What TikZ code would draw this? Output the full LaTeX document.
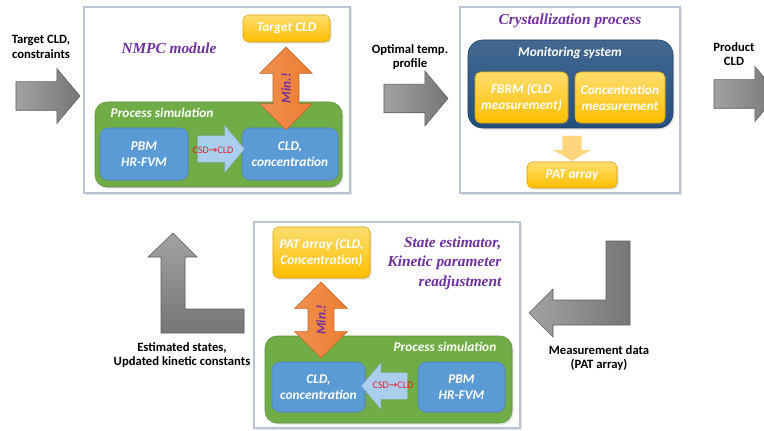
\documentclass[tikz,border=0pt]{standalone}
\usepackage{fontspec}
\setmainfont{Carlito}
\newfontfamily\titlefont{Liberation Serif}
\newfontfamily\symbfont{DejaVu Sans}
\usetikzlibrary{shapes.arrows,shadows}
\definecolor{mpurple}{RGB}{112,48,160}
\definecolor{mgold}{RGB}{255,190,0}
\definecolor{mgoldlight}{RGB}{255,222,110}
\definecolor{mgreen}{RGB}{112,173,71}
\definecolor{mblue}{RGB}{91,155,213}
\definecolor{mnavy}{RGB}{34,78,126}
\definecolor{morange}{RGB}{237,125,49}
\definecolor{mskyblue}{RGB}{172,206,238}
\definecolor{mpale}{RGB}{255,214,125}
\definecolor{mframe}{RGB}{185,195,210}
\definecolor{mgraylt}{RGB}{162,162,162}
\definecolor{mgraydk}{RGB}{118,118,118}
\definecolor{mred}{RGB}{230,30,40}
\newcommand\lblfont{\fontsize{9.5}{11}\selectfont\bfseries}
\newcommand\boxfont{\fontsize{10}{12}\selectfont\bfseries\itshape}
\newcommand\ttlfont{\titlefont\fontsize{11.5}{14.6}\selectfont\bfseries\itshape}
\newcommand\csdto{{\symbfont →}}

\begin{document}
\begin{tikzpicture}[x=0.75pt,y=-0.75pt,
  softshadow/.style={drop shadow={opacity=0.22,shadow xshift=1.2pt,shadow yshift=-1.2pt}},
  panel/.style={draw=mframe,line width=1.2pt,fill=white,softshadow},
  goldbox/.style={rounded corners=4pt,draw=mgold!85!black,top color=mgoldlight,bottom color=mgold,
    text=white,font=\boxfont,align=center,softshadow},
  bluebox/.style={rounded corners=6pt,draw=mblue!85!black,fill=mblue,text=white,font=\boxfont,
    align=center,softshadow},
  greenbox/.style={rounded corners=9pt,draw=mgreen!85!black,fill=mgreen,softshadow},
  navybox/.style={rounded corners=11pt,draw=mnavy!80!black,top color=mnavy!85!white,bottom color=mnavy,softshadow},
  grayarrow/.style={single arrow,draw=mgraydk!80!black,line width=0.4pt,left color=mgraylt,right color=mgraydk,
    minimum height=48pt,single arrow head extend=10pt,single arrow tip angle=100,inner sep=10.5pt},
  grayfill/.style={draw=mgraydk!80!black,line width=0.4pt},
  minarrow/.style={double arrow,rotate=90,draw=morange!80!black,left color=morange!85!white,right color=morange,
    double arrow head extend=10pt,double arrow tip angle=90,inner xsep=1pt,inner ysep=6pt,
    text=mpurple,font=\boxfont},
  csdarrow/.style={single arrow,draw=mskyblue!85!black,line width=0.3pt,fill=mskyblue,
    minimum height=35pt,single arrow head extend=7.5pt,single arrow tip angle=100,inner sep=9.75pt},
  palearrow/.style={single arrow,rotate=-90,fill=mpale,minimum height=18.75pt,
    single arrow head extend=6.75pt,single arrow tip angle=120,inner sep=7.1pt},
  csdlbl/.style={font=\fontsize{7.6}{8}\selectfont,text=mred,inner sep=0pt},
  lbl/.style={font=\lblfont,align=center},
  ttl/.style={font=\ttlfont,text=mpurple},
  simlbl/.style={font=\boxfont,text=white}
]
\clip (0,0) rectangle (764,431);

\node[panel,minimum width=199.5pt,minimum height=139.5pt] (nmpc) at (217,100) {};
\node[panel,minimum width=165pt,minimum height=139.5pt] (cryst) at (570,100) {};
\node[panel,minimum width=199.5pt,minimum height=154.5pt] (estim) at (387,325) {};

% NMPC module
\node[ttl] (nmpctitle) at (169,48) {NMPC module};
\node[greenbox,minimum width=185.25pt,minimum height=63.75pt] (sim1) at (218.5,144.5) {};
\node[simlbl,anchor=west] (sim1lbl) at (106,113) {Process simulation};
\node[bluebox,minimum width=66pt,minimum height=39pt] (pbm1) at (144,154) {PBM\\HR-FVM};
\node[bluebox,minimum width=72pt,minimum height=39pt] (cld1) at (290,154) {CLD,\\concentration};
\node[goldbox,minimum width=65.25pt,minimum height=20.25pt] (target) at (286.5,28.5) {Target CLD};
\node[minarrow,minimum height=62.25pt] (min1) at (286,88.5) {Min.!};
\node[csdarrow] (conv1) at (215.5,149) {};
\node[csdlbl] (conv1lbl) at (213,150) {CSD\csdto CLD};

% Crystallization process
\node[ttl] (crysttitle) at (570,21) {Crystallization process};
\node[navybox,minimum width=153.75pt,minimum height=66pt] (monitor) at (570.5,84) {};
\node[simlbl] (monitorlbl) at (570,53) {Monitoring system};
\node[goldbox,minimum width=69.75pt,minimum height=38.25pt] (fbrm) at (521.5,97.5) {FBRM (CLD\\measurement)};
\node[goldbox,minimum width=67.5pt,minimum height=38.25pt] (conc) at (620,97.5) {Concentration\\measurement};
\node[palearrow] (down) at (572,145.5) {};
\node[goldbox,minimum width=67.5pt,minimum height=19.5pt] (pat1) at (572,175) {PAT array};

% state estimator
\node[ttl,align=right,anchor=east] (estimtitle) at (506,263) {State estimator,\\Kinetic parameter\\readjustment};
\node[greenbox,minimum width=185.25pt,minimum height=65.25pt] (sim2) at (388.5,379.5) {};
\node[simlbl,anchor=east] (sim2lbl) at (501,347) {Process simulation};
\node[bluebox,minimum width=69.75pt,minimum height=37.5pt] (cld2) at (318.5,387) {CLD,\\concentration};
\node[bluebox,minimum width=65.25pt,minimum height=37.5pt] (pbm2) at (461.5,387) {PBM\\HR-FVM};
\node[goldbox,minimum width=72.75pt,minimum height=38.25pt] (pat2) at (321.5,252.5) {PAT array (CLD,\\Concentration)};
\node[minarrow,minimum height=57pt] (min2) at (321,320) {Min.!};
\node[csdarrow,rotate=180,minimum height=34.5pt] (conv2) at (390,386) {};
\node[csdlbl] (conv2lbl) at (393,385) {CSD\csdto CLD};

% flow between the blocks
\node[grayarrow] (inarrow) at (42,96) {};
\node[grayarrow] (midarrow) at (410,98.5) {};
\node[grayarrow] (outarrow) at (740,94) {};
\draw[grayfill,top color=mgraylt,bottom color=mgraydk] (173,233) -- (197,257) -- (185,257) -- (185,309)
  -- (244,309) -- (244,333) -- (161,333) -- (161,257) -- (148,257) -- cycle;
\draw[grayfill,left color=mgraylt,right color=mgraydk] (529,313) -- (553,289) -- (553,300) -- (606,300)
  -- (606,241) -- (630,241) -- (630,325) -- (553,325) -- (553,337) -- cycle;
\node[lbl] (inlbl) at (41,47) {Target CLD,\\constraints};
\node[lbl] (midlbl) at (410,57) {Optimal temp.\\profile};
\node[lbl] (outlbl) at (734,54) {Product\\CLD};
\node[lbl] (backlbl) at (182,355) {Estimated states,\\Updated kinetic constants};
\node[lbl] (measlbl) at (599,358) {Measurement data\\(PAT array)};
\end{tikzpicture}
\end{document}
